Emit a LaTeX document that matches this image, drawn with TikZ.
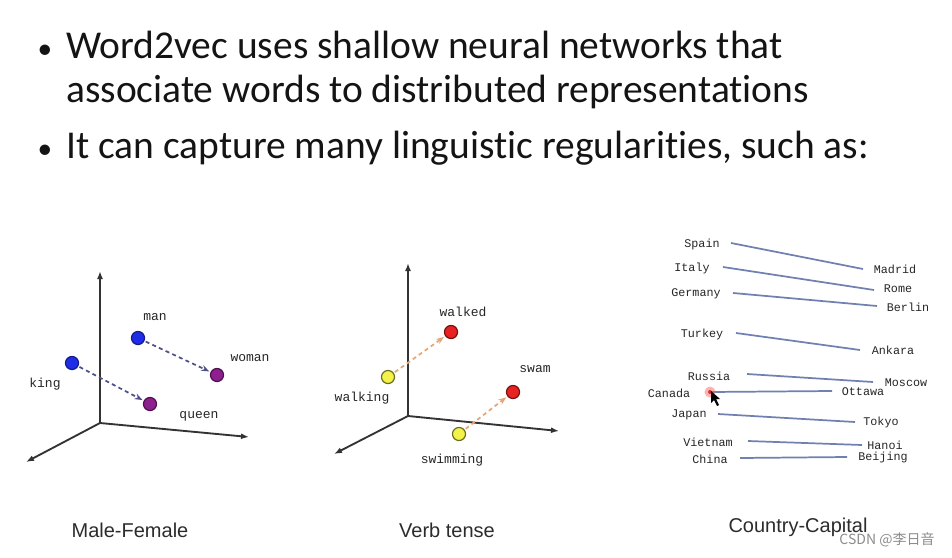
\documentclass[tikz,border=0pt]{standalone}
\usepackage{fontspec}
\setmainfont{Carlito}[Ligatures=NoCommon]
\newfontfamily\monof{Liberation Mono}
\newfontfamily\capf{Liberation Sans}
\newfontfamily\cjkf{Noto Sans CJK SC}
\usetikzlibrary{arrows.meta}
\definecolor{axisgray}{HTML}{333333}
\definecolor{dotblue}{HTML}{1F2EE6}
\definecolor{dotpurple}{HTML}{8E1F8E}
\definecolor{dotred}{HTML}{E82222}
\definecolor{dotyellow}{HTML}{F2F24A}
\definecolor{mfarrow}{HTML}{505088}
\definecolor{vtarrow}{HTML}{E8A676}
\definecolor{ccline}{HTML}{7080B0}
\definecolor{txt}{HTML}{141414}
\begin{document}
\begin{tikzpicture}[x=0.75pt,y=-0.75pt,
  bultext/.style={anchor=base west, inner sep=0, text=txt, font=\fontsize{29.6}{36}\selectfont},
  bulmark/.style={anchor=base, inner sep=0, text=txt, font=\fontsize{22}{26}\selectfont},
  axisline/.style={draw=axisgray, line width=1.4pt, -{Latex[length=6pt,width=4.5pt]}},
  dotnode/.style={circle, minimum size=9.8pt, inner sep=0, line width=0.9pt},
  bluedot/.style={dotnode, fill=dotblue, draw=dotblue!60!black},
  purpledot/.style={dotnode, fill=dotpurple, draw=dotpurple!55!black},
  reddot/.style={dotnode, fill=dotred, draw=dotred!50!black},
  yellowdot/.style={dotnode, fill=dotyellow, draw=dotyellow!45!black},
  mfdash/.style={draw=mfarrow, line width=1.3pt, dash pattern=on 3pt off 2.5pt, -{Stealth[length=6pt,width=4.5pt]}, shorten >=1pt, shorten <=1pt},
  vtdash/.style={draw=vtarrow, line width=1.3pt, dash pattern=on 3pt off 2.5pt, -{Stealth[length=6pt,width=4.5pt]}, shorten >=1pt, shorten <=1pt},
  ptlabel/.style={inner sep=0, text=black!85, font=\monof\fontsize{9.75}{11}\selectfont},
  cclabel/.style={inner sep=0, text=black!85, font=\monof\fontsize{8.8}{10}\selectfont},
  ccedge/.style={draw=ccline, line width=1.3pt},
  caption/.style={inner sep=0, anchor=base, text=txt!90!white, font=\capf\fontsize{15}{18}\selectfont}
]
\useasboundingbox (0,0) rectangle (952,557);

% ---------------- bullet text ----------------
\node[bulmark] (b1) at (45,58) {•};
\node[bultext] (t1) at (66,58) {Word2vec uses shallow neural networks that};
\node[bultext] (t2) at (66,102) {associate words to distributed representations};
\node[bulmark] (b2) at (45,158) {•};
\node[bultext] (t3) at (66,158) {It can capture many linguistic regularities, such as:};

% ---------------- Male-Female ----------------
\coordinate (o1) at (100,423);
\coordinate (o1up) at (100,271);
\coordinate (o1r) at (249,437);
\coordinate (o1l) at (26,462);
\draw[axisline] (o1) -- (o1up);
\draw[axisline] (o1) -- (o1r);
\draw[axisline] (o1) -- (o1l);

\node[bluedot] (man) at (138,338) {};
\node[bluedot] (king) at (72,363) {};
\node[purpledot] (woman) at (217,375) {};
\node[purpledot] (queen) at (150,404) {};
\draw[mfdash] (man) -- (woman);
\draw[mfdash] (king) -- (queen);
\node[ptlabel] (manl) at (155,317) {man};
\node[ptlabel] (womanl) at (250,358) {woman};
\node[ptlabel] (kingl) at (45,384) {king};
\node[ptlabel] (queenl) at (199,416) {queen};

\node[caption] (cap1) at (130,537) {Male-Female};

% ---------------- Verb tense ----------------
\coordinate (o2) at (408,416);
\coordinate (o2up) at (408,263);
\coordinate (o2r) at (559,431);
\coordinate (o2l) at (334,454);
\draw[axisline] (o2) -- (o2up);
\draw[axisline] (o2) -- (o2r);
\draw[axisline] (o2) -- (o2l);

\node[reddot] (walked) at (451,332) {};
\node[yellowdot] (walking) at (388,377) {};
\node[reddot] (swam) at (513,392) {};
\node[yellowdot] (swimming) at (459,434) {};
\draw[vtdash] (walking) -- (walked);
\draw[vtdash] (swimming) -- (swam);
\node[ptlabel] (walkedl) at (463,312) {walked};
\node[ptlabel] (walkingl) at (362,398) {walking};
\node[ptlabel] (swaml) at (535,369) {swam};
\node[ptlabel] (swimmingl) at (452,460) {swimming};

\node[caption] (cap2) at (447,537) {Verb tense};

% ---------------- Country-Capital ----------------
\node[cclabel] (spain) at (702,244) {Spain};
\node[cclabel] (madrid) at (895,269) {Madrid};
\coordinate (spainA) at (731,243); \coordinate (madridA) at (863,269);
\draw[ccedge] (spainA) -- (madridA);

\node[cclabel] (italy) at (692,268) {Italy};
\node[cclabel] (rome) at (898,289) {Rome};
\coordinate (italyA) at (723,267); \coordinate (romeA) at (874,290);
\draw[ccedge] (italyA) -- (romeA);

\node[cclabel] (germany) at (696,294) {Germany};
\node[cclabel] (berlin) at (908,307) {Berlin};
\coordinate (germanyA) at (733,293); \coordinate (berlinA) at (877,306);
\draw[ccedge] (germanyA) -- (berlinA);

\node[cclabel] (turkey) at (702,334) {Turkey};
\node[cclabel] (ankara) at (893,350) {Ankara};
\coordinate (turkeyA) at (736,333); \coordinate (ankaraA) at (860,350);
\draw[ccedge] (turkeyA) -- (ankaraA);

\node[cclabel] (russia) at (709,376) {Russia};
\node[cclabel] (moscow) at (906,383) {Moscow};
\coordinate (russiaA) at (747,374); \coordinate (moscowA) at (873,382);
\draw[ccedge] (russiaA) -- (moscowA);

\node[cclabel] (canada) at (669,393) {Canada};
\node[cclabel] (ottawa) at (863,392) {Ottawa};
\coordinate (canadaA) at (710,392); \coordinate (ottawaA) at (832,391);
\draw[ccedge] (canadaA) -- (ottawaA);

\node[cclabel] (japan) at (689,415) {Japan};
\node[cclabel] (tokyo) at (881,422) {Tokyo};
\coordinate (japanA) at (718,414); \coordinate (tokyoA) at (855,422);
\draw[ccedge] (japanA) -- (tokyoA);

\node[cclabel] (vietnam) at (708,442) {Vietnam};
\node[cclabel] (hanoi) at (885,445) {Hanoi};
\coordinate (vietnamA) at (748,441); \coordinate (hanoiA) at (862,445);
\draw[ccedge] (vietnamA) -- (hanoiA);

\node[cclabel] (china) at (710,459) {China};
\node[cclabel] (beijing) at (883,457) {Beijing};
\coordinate (chinaA) at (740,458); \coordinate (beijingA) at (847,457);
\draw[ccedge] (chinaA) -- (beijingA);

% cursor highlight and pointer
\fill[red!60, opacity=0.5] (canadaA) circle (5.5);
\fill[red!80!black, opacity=0.7] (canadaA) circle (2);
\fill[black] (711,391) -- (711,403) -- (714,400) -- (717,406) -- (719,405) -- (716,399) -- (720,399) -- cycle;

\node[caption] (cap3) at (798,532) {Country-Capital};

% watermark
\node[inner sep=0, text=black!45, font=\cjkf\fontsize{10.5}{12}\selectfont] (wm) at (887,540) {CSDN @李日音};
\end{tikzpicture}
\end{document}
